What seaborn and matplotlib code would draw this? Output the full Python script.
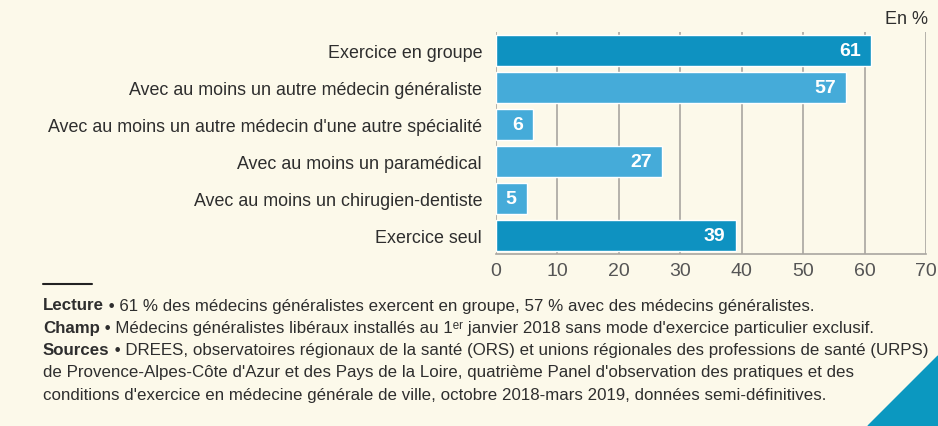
import matplotlib
matplotlib.use("Agg")
import matplotlib.pyplot as plt
import seaborn as sns
import pandas as pd
from matplotlib.patches import Polygon

categories = [
    "Exercice en groupe",
    "Avec au moins un autre médecin généraliste",
    "Avec au moins un autre médecin d'une autre spécialité",
    "Avec au moins un paramédical",
    "Avec au moins un chirugien-dentiste",
    "Exercice seul",
]
values = [61, 57, 6, 27, 5, 39]
shade = ["dark", "light", "light", "light", "light", "dark"]
xticks = [0, 10, 20, 30, 40, 50, 60, 70]

BG = "#fcf9ea"
DARK = "#0e92c1"
LIGHT = "#45abd9"
TXT = "#2e2e2e"

sns.set_theme(style="white")
FAM = ["Liberation Sans Narrow", "Liberation Sans", "DejaVu Sans"]
plt.rcParams["font.family"] = FAM

W, H = 938, 427
fig = plt.figure(figsize=(W / 100, H / 100), dpi=100, facecolor=BG)
ax = fig.add_axes([496 / W, 1 - 255 / H, 430 / W, 222 / H])
ax.set_facecolor(BG)

df = pd.DataFrame({"cat": categories, "val": values, "shade": shade})
sns.barplot(data=df, x="val", y="cat", hue="shade",
            palette={"dark": DARK, "light": LIGHT}, dodge=False,
            width=0.85, legend=False, ax=ax, zorder=3, saturation=1)

ax.set_xlim(0, 70)
ax.set_ylim(5.5, -0.5)
ax.set_xticks(xticks)
ax.set_xticklabels([str(t) for t in xticks], fontsize=14, color="#555555")
ax.set_yticks(range(len(categories)))
ax.set_yticklabels(categories, fontsize=12.9, color=TXT)
ax.set_xlabel("")
ax.set_ylabel("")
ax.grid(axis="x", color="#a9a6a0", linewidth=1.2, zorder=0)
ax.set_axisbelow(True)
for s in ["top", "right"]:
    ax.spines[s].set_visible(False)
ax.spines["left"].set_visible(False)
ax.spines["bottom"].set_color("#a9a6a0")
ax.spines["bottom"].set_linewidth(1.2)
ax.tick_params(axis="x", length=4, color="#a9a6a0", width=1.2, pad=2)
ax.tick_params(axis="y", length=0, pad=10)
ax.set_yticks([i - 0.5 for i in range(len(categories) + 1)], minor=True)
ax.tick_params(axis="y", which="minor", length=5, color="#a9a6a0", width=1.2)

for i, v in enumerate(values):
    ax.annotate(str(v), xy=(v, i), xytext=(-10, 0), textcoords="offset pixels",
                ha="right", va="center", color="white", fontweight="bold",
                fontsize=14)

fig.text(928 / W, 1 - 20 / H, "En %", ha="right", va="center",
         fontsize=13, color=TXT)

fig.add_artist(plt.Line2D([43 / W, 92 / W], [1 - 285 / H, 1 - 285 / H],
                          color="#222222", linewidth=1.5))

notes = [
    ("Lecture", " • 61 % des médecins généralistes exercent en groupe, 57 % avec des médecins généralistes."),
    ("Champ", " • Médecins généralistes libéraux installés au 1ᵉʳ janvier 2018 sans mode d'exercice particulier exclusif."),
    ("Sources", " • DREES, observatoires régionaux de la santé (ORS) et unions régionales des professions de santé (URPS)"),
    ("", "de Provence-Alpes-Côte d'Azur et des Pays de la Loire, quatrième Panel d'observation des pratiques et des"),
    ("", "conditions d'exercice en médecine générale de ville, octobre 2018-mars 2019, données semi-définitives."),
]
renderer = fig.canvas.get_renderer()
y0 = 306
dy = 22.3
for k, (bold, rest) in enumerate(notes):
    y = 1 - (y0 + k * dy) / H
    x = 43 / W
    if bold:
        t = fig.text(x, y, bold, fontweight="bold", fontsize=12.2, color=TXT,
                     va="center", ha="left")
        bb = t.get_window_extent(renderer)
        x = bb.x1 / W
    fig.text(x, y, rest, fontsize=12.2, color=TXT, va="center", ha="left")

fig.add_artist(Polygon([[868 / W, 0], [1, 70 / H], [1, 0]], closed=True,
                       transform=fig.transFigure, color="#0b98c0"))

fig.savefig("out.png", dpi=100, facecolor=BG)
